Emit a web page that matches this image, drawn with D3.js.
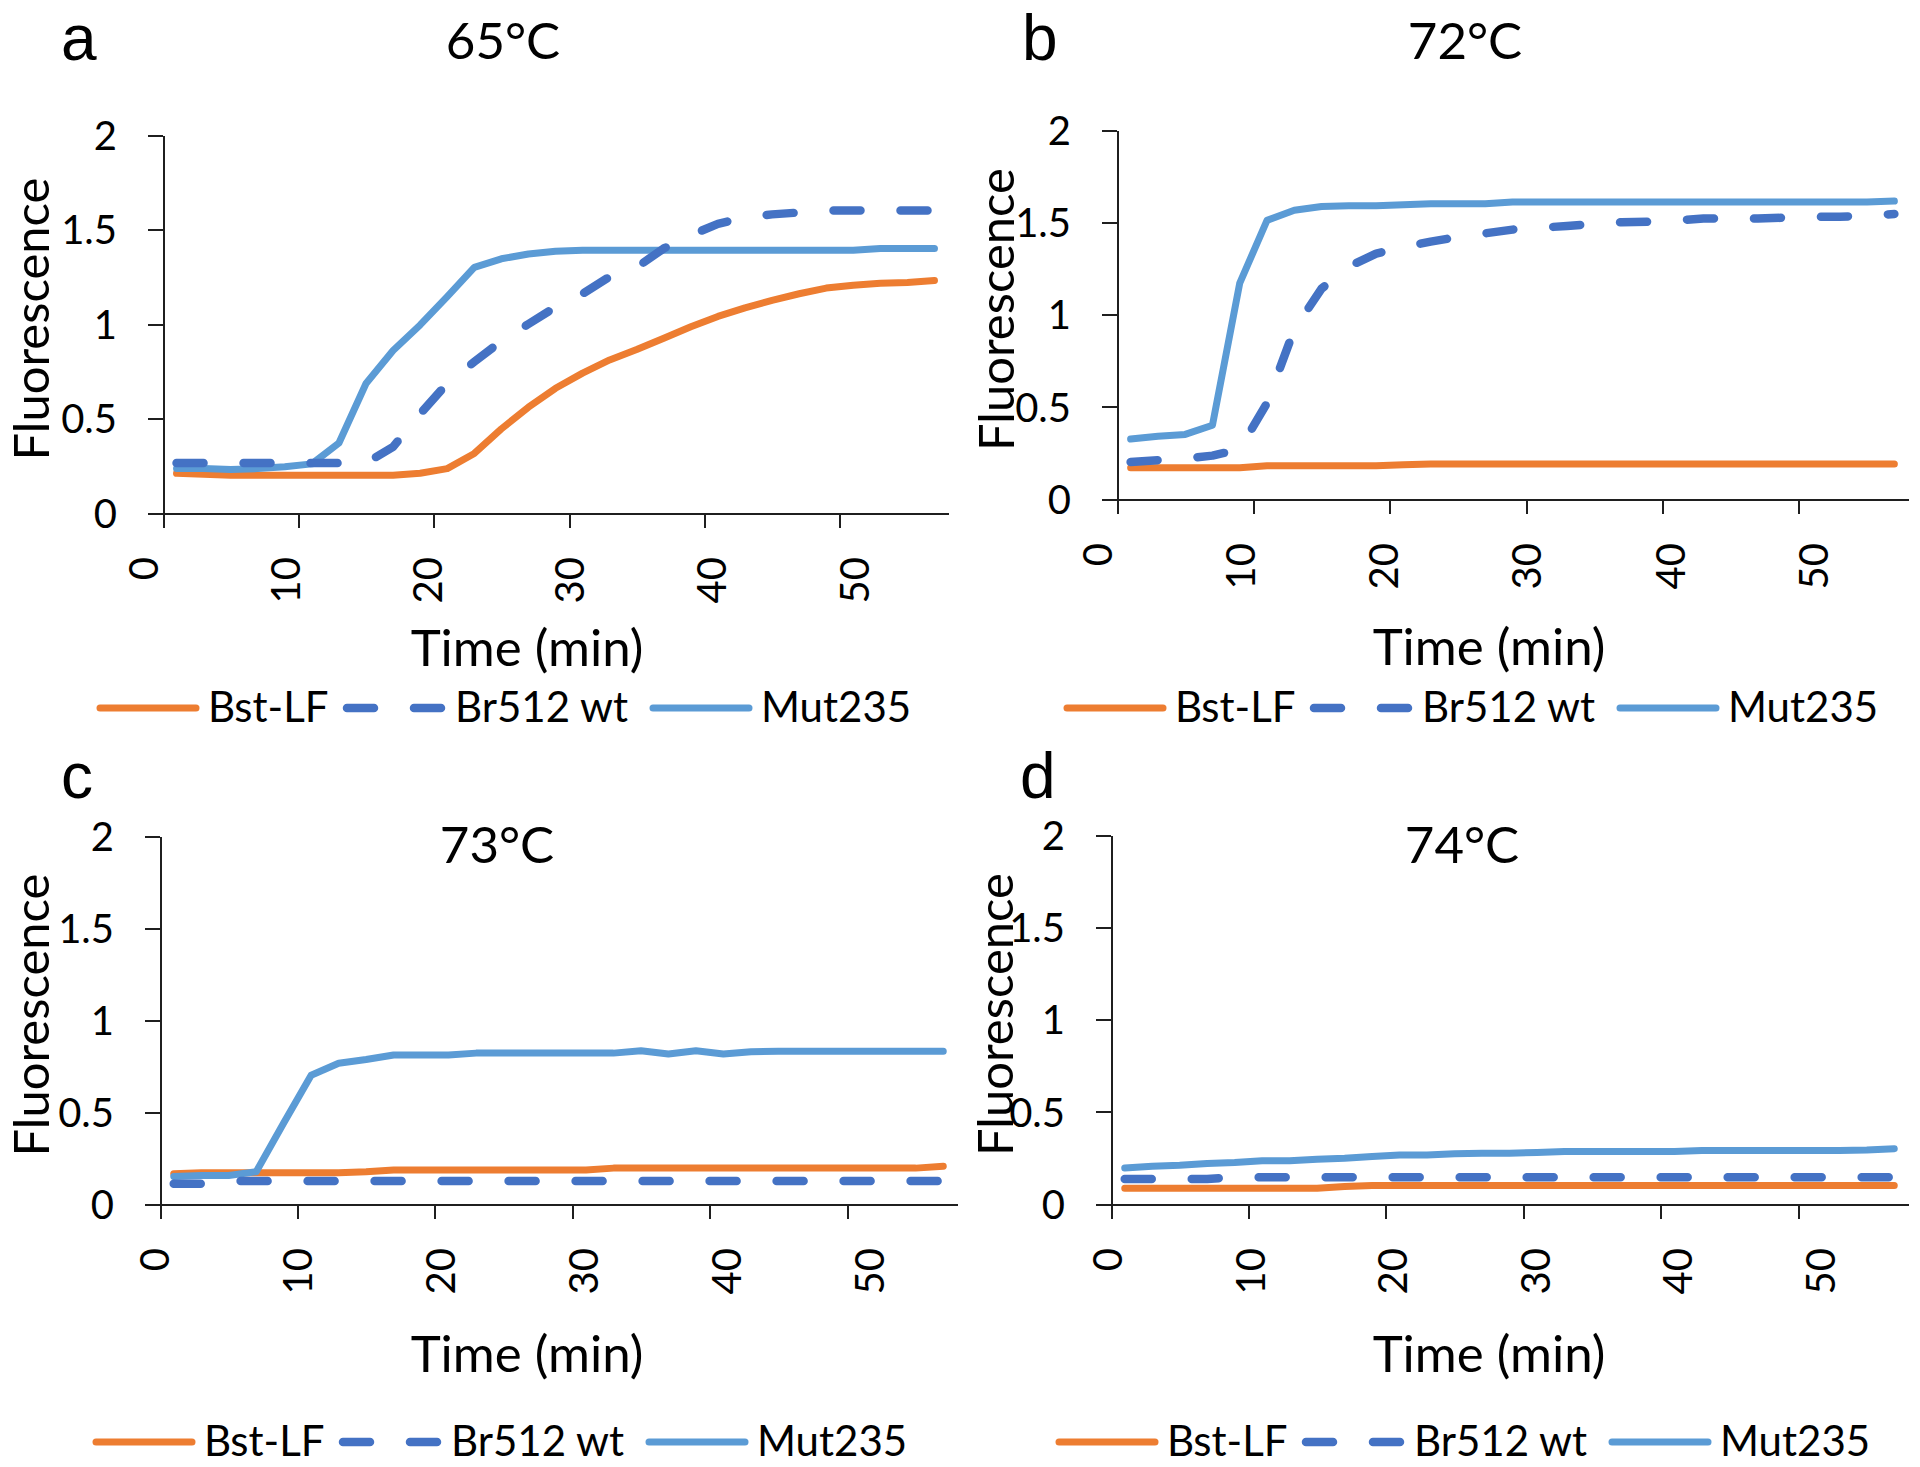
<!DOCTYPE html>
<html>
<head>
<meta charset="utf-8">
<script src="https://cdn.jsdelivr.net/npm/d3@7/dist/d3.min.js"></script>
<style>
	body { margin: 0; background: #fff; }
	svg text { font-family: Lato, 'Open Sans', sans-serif; fill: #000; }
	.axis path, .axis line { stroke: #1f1f1f; stroke-width: 2; shape-rendering: crispEdges; }
</style>
</head>
<body>
<script>
// sampling times (min)
var times = [1, 3, 5, 7, 9, 11, 13, 15, 17, 19, 21, 23, 25, 27, 29, 31, 33, 35, 37, 39, 41, 43, 45, 47, 49, 51, 53, 55, 57];

var xTicks = [0, 10, 20, 30, 40, 50];
var yTicks = [0, 0.5, 1, 1.5, 2];

var seriesNames = ['Bst-LF', 'Br512 wt', 'Mut235'];
var panelLetters = ['a', 'b', 'c', 'd'];
var panelTitles = ['65°C', '72°C', '73°C', '74°C'];

// 65°C
var bst65 = [0.21, 0.205, 0.2, 0.2, 0.2, 0.2, 0.2, 0.2, 0.2, 0.21, 0.235, 0.315, 0.445, 0.56, 0.66, 0.74, 0.81, 0.865, 0.925, 0.985, 1.04, 1.085, 1.125, 1.16, 1.19, 1.205, 1.215, 1.22, 1.23];
var br65  = [0.265, 0.265, 0.265, 0.265, 0.265, 0.265, 0.265, 0.265, 0.35, 0.525, 0.685, 0.8, 0.91, 1.0, 1.09, 1.16, 1.25, 1.3, 1.4, 1.47, 1.53, 1.565, 1.58, 1.59, 1.6, 1.6, 1.6, 1.6, 1.6];
var mut65 = [0.235, 0.235, 0.23, 0.235, 0.245, 0.26, 0.37, 0.685, 0.86, 0.995, 1.145, 1.3, 1.345, 1.37, 1.385, 1.39, 1.39, 1.39, 1.39, 1.39, 1.39, 1.39, 1.39, 1.39, 1.39, 1.39, 1.4, 1.4, 1.4];

// 72°C
var bst72 = [0.17, 0.17, 0.17, 0.17, 0.17, 0.18, 0.18, 0.18, 0.18, 0.18, 0.185, 0.19, 0.19, 0.19, 0.19, 0.19, 0.19, 0.19, 0.19, 0.19, 0.19, 0.19, 0.19, 0.19, 0.19, 0.19, 0.19, 0.19, 0.19];
var br72  = [0.2, 0.21, 0.22, 0.235, 0.27, 0.52, 0.92, 1.14, 1.26, 1.33, 1.365, 1.395, 1.42, 1.44, 1.46, 1.47, 1.48, 1.49, 1.5, 1.503, 1.51, 1.52, 1.52, 1.52, 1.525, 1.53, 1.53, 1.535, 1.545];
var mut72 = [0.325, 0.34, 0.35, 0.4, 1.17, 1.51, 1.565, 1.585, 1.59, 1.59, 1.595, 1.6, 1.6, 1.6, 1.61, 1.61, 1.61, 1.61, 1.61, 1.61, 1.61, 1.61, 1.61, 1.61, 1.61, 1.61, 1.61, 1.61, 1.615];

// 73°C
var bst73 = [0.165, 0.17, 0.17, 0.17, 0.17, 0.17, 0.17, 0.175, 0.185, 0.185, 0.185, 0.185, 0.185, 0.185, 0.185, 0.185, 0.195, 0.195, 0.195, 0.195, 0.195, 0.195, 0.195, 0.195, 0.195, 0.195, 0.195, 0.195, 0.205];
var br73  = [0.11, 0.11, 0.125, 0.125, 0.125, 0.125, 0.125, 0.125, 0.125, 0.125, 0.125, 0.125, 0.125, 0.125, 0.125, 0.125, 0.125, 0.125, 0.125, 0.125, 0.125, 0.125, 0.125, 0.125, 0.125, 0.125, 0.125, 0.125, 0.125];
var mut73 = [0.15, 0.155, 0.155, 0.175, 0.44, 0.7, 0.765, 0.785, 0.81, 0.81, 0.81, 0.82, 0.82, 0.82, 0.82, 0.82, 0.82, 0.833, 0.815, 0.833, 0.815, 0.828, 0.83, 0.83, 0.83, 0.83, 0.83, 0.83, 0.83];

// 74°C
var bst74 = [0.085, 0.085, 0.085, 0.085, 0.085, 0.085, 0.085, 0.085, 0.095, 0.1, 0.1, 0.1, 0.1, 0.1, 0.1, 0.1, 0.1, 0.1, 0.1, 0.1, 0.1, 0.1, 0.1, 0.1, 0.1, 0.1, 0.1, 0.1, 0.1];
var br74  = [0.135, 0.135, 0.135, 0.135, 0.145, 0.145, 0.145, 0.145, 0.145, 0.145, 0.145, 0.145, 0.145, 0.145, 0.145, 0.145, 0.145, 0.145, 0.145, 0.145, 0.145, 0.145, 0.145, 0.145, 0.145, 0.145, 0.145, 0.145, 0.145];
var mut74 = [0.195, 0.205, 0.21, 0.22, 0.225, 0.235, 0.235, 0.243, 0.248, 0.257, 0.265, 0.265, 0.272, 0.275, 0.275, 0.279, 0.284, 0.284, 0.284, 0.284, 0.284, 0.29, 0.29, 0.29, 0.29, 0.29, 0.29, 0.293, 0.3];

var panelData = [[bst65, br65, mut65], [bst72, br72, mut72], [bst73, br73, mut73], [bst74, br74, mut74]];

var colors = ['#ED7D31', '#4472C4', '#5B9BD5'],
	dashes = [null, '27 40', null],
	widths = [7, 8.5, 7],
	drawOrder = [0, 2, 1];

// where each panel sits on the page
var layout = [
	{l: 163, r: 948, t: 135, b: 513, titleX: 503, titleY: 59, letterX: 61, letterY: 60, xTitleX: 527, xTitleY: 666, yTitleX: 49, legX: 96, legY: 708, lab0: -20, lab50: 14},
	{l: 1117, r: 1908, t: 130, b: 499, titleX: 1465, titleY: 59, letterX: 1022, letterY: 60, xTitleX: 1489, xTitleY: 665, yTitleX: 1014, legX: 1063, legY: 708, lab0: -20, lab50: 14},
	{l: 160, r: 957, t: 836, b: 1204, titleX: 497, titleY: 863, letterX: 61, letterY: 798, xTitleX: 527, xTitleY: 1372, yTitleX: 49, legX: 92, legY: 1442, lab0: -6, lab50: 22},
	{l: 1111, r: 1908, t: 835, b: 1204, titleX: 1462, titleY: 863, letterX: 1020, letterY: 798, xTitleX: 1489, xTitleY: 1372, yTitleX: 1013, legX: 1055, legY: 1442, lab0: -4, lab50: 22}
];

var width = 1920,
	height = 1467;

var svg = d3.select('body').append('svg')
	.attr('width', width)
	.attr('height', height)
	.attr('viewBox', '0 0 ' + width + ' ' + height);

svg.append('rect').attr('width', width).attr('height', height).attr('fill', '#fff');

layout.forEach(function(p, pi) {
	var x = d3.scaleLinear().domain([0, 58]).range([p.l, p.r]);
	var y = d3.scaleLinear().domain([0, 2]).range([p.b, p.t]);
	// rotated x labels drift slightly relative to the ticks, as in the original
	var labShift = d3.scaleLinear().domain([0, 50]).range([p.lab0, p.lab50]);

	var g = svg.append('g');

	//Y axis
	g.append('g')
		.attr('class', 'axis')
		.attr('transform', 'translate(' + p.l + ',0)')
		.call(d3.axisLeft(y).tickValues(yTicks).tickSize(15).tickSizeOuter(0).tickPadding(31)
			.tickFormat(function(d) { return String(d); }))
		.selectAll('text')
		.style('font-size', '40px')
		.attr('dy', '0.36em');

	//X axis
	var xAxis = g.append('g')
		.attr('class', 'axis')
		.attr('transform', 'translate(0,' + p.b + ')')
		.call(d3.axisBottom(x).tickValues(xTicks).tickSize(15).tickSizeOuter(0));

	xAxis.selectAll('text')
		.style('font-size', '40px')
		.attr('text-anchor', 'end')
		.attr('x', null)
		.attr('y', null)
		.attr('dy', '0.36em')
		.attr('transform', function(d) { return 'translate(' + labShift(d) + ',44) rotate(-90)'; });

	//Series lines
	drawOrder.forEach(function(si) {
		var line = d3.line()
			.x(function(d, i) { return x(times[i]); })
			.y(function(d) { return y(d); });

		g.append('path')
			.datum(panelData[pi][si])
			.attr('d', line)
			.attr('fill', 'none')
			.attr('stroke', colors[si])
			.attr('stroke-width', widths[si])
			.attr('stroke-linejoin', 'round')
			.attr('stroke-linecap', 'round')
			.attr('stroke-dasharray', dashes[si]);
	});

	//Titles
	g.append('text')
		.attr('x', p.titleX)
		.attr('y', p.titleY)
		.attr('text-anchor', 'middle')
		.style('font-size', '51px')
		.text(panelTitles[pi]);

	g.append('text')
		.attr('x', p.letterX)
		.attr('y', p.letterY)
		.style('font-family', "'Liberation Sans', Arial, sans-serif")
		.style('font-size', '64px')
		.text(panelLetters[pi]);

	g.append('text')
		.attr('x', p.xTitleX)
		.attr('y', p.xTitleY)
		.attr('text-anchor', 'middle')
		.style('font-size', '51px')
		.text('Time (min)');

	g.append('text')
		.attr('transform', 'translate(' + p.yTitleX + ',' + ((p.t + p.b) / 2 - 5) + ') rotate(-90)')
		.attr('text-anchor', 'middle')
		.style('font-size', '49px')
		.text('Fluorescence');

	//Legend
	var legOffsets = [0, 247, 553];
	var leg = g.append('g').attr('transform', 'translate(' + p.legX + ',' + p.legY + ')');
	seriesNames.forEach(function(name, si) {
		var ox = legOffsets[si];
		leg.append('line')
			.attr('x1', ox + 4).attr('x2', ox + 100)
			.attr('y1', 0).attr('y2', 0)
			.attr('stroke', colors[si])
			.attr('stroke-width', widths[si])
			.attr('stroke-linecap', 'round')
			.attr('stroke-dasharray', dashes[si]);
		leg.append('text')
			.attr('x', ox + 112)
			.attr('dy', '0.33em')
			.style('font-size', '42px')
			.text(name);
	});
});
</script>
</body>
</html>
